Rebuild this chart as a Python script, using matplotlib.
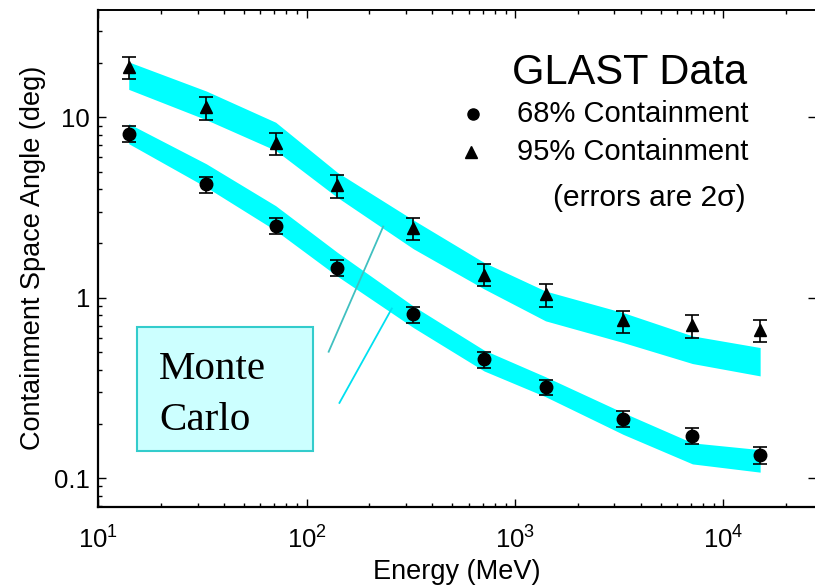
import matplotlib
matplotlib.use("Agg")
import matplotlib.pyplot as plt
from matplotlib.patches import Rectangle
from matplotlib.ticker import LogLocator, FixedLocator, FixedFormatter, NullFormatter

plt.rcParams['font.family'] = ['Liberation Sans', 'DejaVu Sans']
plt.rcParams['mathtext.fontset'] = 'custom'
plt.rcParams['mathtext.rm'] = 'Liberation Sans'
plt.rcParams['mathtext.it'] = 'Liberation Sans:italic'
plt.rcParams['mathtext.bf'] = 'Liberation Sans:bold'

# energies (MeV)
energy = [14, 33, 71, 140, 325, 710, 1400, 3300, 7100, 15000]

# GLAST data, 68% containment
psf68 = [8.1, 4.3, 2.5, 1.47, 0.81, 0.455, 0.32, 0.214, 0.171, 0.134]
psf68_lo = [7.3, 3.8, 2.27, 1.32, 0.726, 0.41, 0.288, 0.192, 0.154, 0.12]
psf68_hi = [8.95, 4.69, 2.76, 1.62, 0.884, 0.50, 0.35, 0.235, 0.189, 0.148]

# GLAST data, 95% containment
psf95 = [19.0, 11.4, 7.2, 4.2, 2.45, 1.34, 1.05, 0.75, 0.705, 0.667]
psf95_lo = [16.3, 9.7, 6.15, 3.59, 2.09, 1.16, 0.89, 0.64, 0.60, 0.57]
psf95_hi = [21.5, 12.9, 8.15, 4.78, 2.77, 1.53, 1.19, 0.85, 0.80, 0.755]

# Monte Carlo bands
mc68_top = [9.23, 5.53, 3.24, 1.79, 0.90, 0.513, 0.365, 0.231, 0.157, 0.144]
mc68_bot = [7.15, 4.1, 2.36, 1.32, 0.684, 0.393, 0.283, 0.175, 0.12, 0.108]
mc95_top = [20.3, 14.0, 9.4, 4.97, 2.7, 1.57, 1.09, 0.828, 0.615, 0.53]
mc95_bot = [14.3, 9.7, 6.56, 3.61, 1.87, 1.12, 0.745, 0.565, 0.432, 0.369]

xticks = [10, 100, 1000, 10000]
xticklabels = ['$10^1$', '$10^2$', '$10^3$', '$10^4$']
yticks = [0.1, 1, 10]
yticklabels = ['0.1', '1', '10']

fig = plt.figure(figsize=(8.15, 5.87), dpi=100)
ax = fig.add_axes([0.1206, 0.1368, 0.8806, 0.8462])

cyan = '#00ffff'
ax.fill_between(energy, mc68_bot, mc68_top, color=cyan, lw=0, zorder=1)
ax.fill_between(energy, mc95_bot, mc95_top, color=cyan, lw=0, zorder=1)

err68 = [[p - l for p, l in zip(psf68, psf68_lo)], [h - p for p, h in zip(psf68, psf68_hi)]]
err95 = [[p - l for p, l in zip(psf95, psf95_lo)], [h - p for p, h in zip(psf95, psf95_hi)]]
ax.errorbar(energy, psf68, yerr=err68, fmt='o', color='black', ms=9,
            elinewidth=1.2, capsize=5, capthick=1.2, zorder=3)
ax.errorbar(energy, psf95, yerr=err95, fmt='^', color='black', ms=8.5,
            elinewidth=1.2, capsize=5, capthick=1.2, zorder=3)

ax.set_xscale('log')
ax.set_yscale('log')
ax.set_xlim(10, 27800)
ax.set_ylim(0.0695, 39.4)

ax.xaxis.set_major_locator(FixedLocator(xticks))
ax.xaxis.set_major_formatter(FixedFormatter(xticklabels))
ax.xaxis.set_minor_locator(LogLocator(base=10, subs=range(2, 10)))
ax.xaxis.set_minor_formatter(NullFormatter())
ax.yaxis.set_major_locator(FixedLocator(yticks))
ax.yaxis.set_major_formatter(FixedFormatter(yticklabels))
ax.yaxis.set_minor_locator(LogLocator(base=10, subs=range(2, 10)))
ax.yaxis.set_minor_formatter(NullFormatter())

ax.tick_params(which='both', direction='in', top=True, right=True, width=1)
ax.tick_params(which='major', length=5.5, labelsize=18.5)
ax.tick_params(axis='x', which='major', pad=14)
ax.tick_params(axis='y', which='major', pad=6)
ax.tick_params(which='minor', length=3)
ax.tick_params(axis='y', which='minor', right=False)
for s in ['left', 'bottom']:
    ax.spines[s].set_linewidth(1.6)
ax.spines['top'].set_linewidth(1.4)
# the original is cropped just at the right edge: no right spine visible
ax.spines['right'].set_visible(False)

ax.set_xlabel('Energy (MeV)', fontsize=19.5, labelpad=4)
ax.set_ylabel('Containment Space Angle (deg)', fontsize=19.5, labelpad=6)

# legend block
ax.text(0.5764, 0.873, 'GLAST Data', transform=ax.transAxes, fontsize=30,
        ha='left', va='center')
ax.plot([0.522], [0.790], 'o', color='black', ms=8, transform=ax.transAxes)
ax.plot([0.519], [0.714], '^', color='black', ms=8, transform=ax.transAxes)
ax.text(0.583, 0.790, '68% Containment', transform=ax.transAxes, fontsize=21,
        ha='left', va='center')
ax.text(0.583, 0.714, '95% Containment', transform=ax.transAxes, fontsize=21,
        ha='left', va='center')
ax.text(0.634, 0.621, '(errors are 2\u03c3)', transform=ax.transAxes, fontsize=21.5,
        ha='left', va='center')

# Monte Carlo label box and leader lines
ax.add_patch(Rectangle((0.0539, 0.112), 0.2451, 0.25, transform=ax.transAxes,
                       facecolor='#ccffff', edgecolor='#33cccc', lw=1.5, zorder=2))
ax.text(0.0846, 0.257, 'Monte', transform=ax.transAxes, fontsize=29.5,
        family='Liberation Serif', va='baseline', zorder=4)
ax.text(0.0846, 0.154, 'Carlo', transform=ax.transAxes, fontsize=29.5,
        family='Liberation Serif', va='baseline', zorder=4)
ax.plot([0.321, 0.397], [0.312, 0.564], color='#40c0c0', lw=1.3,
        transform=ax.transAxes, zorder=2)
ax.plot([0.336, 0.409], [0.209, 0.399], color='#00e0f0', lw=1.3,
        transform=ax.transAxes, zorder=2)

fig.savefig('out.png', dpi=100)
